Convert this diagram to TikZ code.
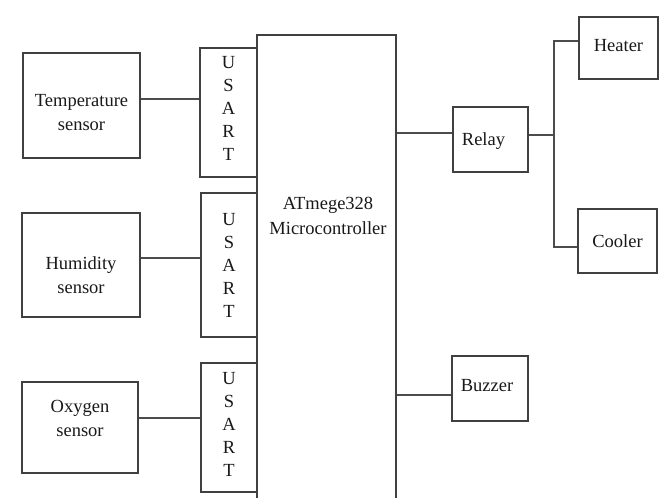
\documentclass[tikz,border=0pt]{standalone}
\usepackage{fontspec}
\setmainfont{Liberation Serif}
\begin{document}
\begin{tikzpicture}[x=1pt,y=-1pt,
  box/.style={draw=black!75, line width=2pt, rectangle, inner sep=0pt},
  txt/.style={align=center, font=\fontsize{18.5}{24.5}\selectfont, text=black!90, inner sep=0pt},
  utxt/.style={txt, font=\fontsize{18.5}{23}\selectfont},
  wire/.style={draw=black!70, line width=1.4pt}]
\useasboundingbox[fill=white] (0,0) rectangle (665,498);
% sensors
\node[box, minimum width=117pt, minimum height=105pt,
  label={[txt, yshift=-7pt]center:Temperature\\sensor}] (temp) at (81.5,105.5) {};
\node[box, minimum width=118pt, minimum height=104pt,
  label={[txt, yshift=-10pt]center:Humidity\\sensor}] (hum) at (81,265) {};
\node[box, minimum width=116pt, minimum height=91pt,
  label={[txt, yshift=9pt]center:Oxygen\\sensor}] (oxy) at (80,427.5) {};
% USART blocks
\node[box, minimum width=57pt, minimum height=129pt,
  label={[utxt, yshift=4pt]center:U\\S\\A\\R\\T}] (u1) at (228.5,112.5) {};
\node[box, minimum width=56pt, minimum height=144pt,
  label={[utxt, yshift=0pt]center:U\\S\\A\\R\\T}] (u2) at (229,265) {};
\node[box, minimum width=56pt, minimum height=129pt,
  label={[utxt, yshift=3pt]center:U\\S\\A\\R\\T}] (u3) at (229,427.5) {};
% microcontroller
\node[box, line width=2.4pt, minimum width=139pt, minimum height=490pt] (mc) at (326.5,280) {};
\node[txt] (mct) at (328,216) {ATmege328\\Microcontroller};
% outputs
\node[box, minimum width=75pt, minimum height=65pt,
  label={[txt, xshift=-7pt, yshift=-2pt]center:Relay}] (relay) at (490.5,139.5) {};
\node[box, minimum width=76pt, minimum height=65pt,
  label={[txt, xshift=-3pt, yshift=3pt]center:Buzzer}] (buzz) at (490,388.5) {};
\node[box, minimum width=79pt, minimum height=62pt,
  label={[txt, yshift=2pt]center:Heater}] (heat) at (618.5,48) {};
\node[box, minimum width=79pt, minimum height=64pt,
  label={[txt]center:Cooler}] (cool) at (617.5,241) {};
% connectors
\draw[wire] ([yshift=6.5pt]temp.east) -- ([yshift=6.5pt]temp.east -| u1.west);
\draw[wire] ([yshift=7pt]hum.east) -- ([yshift=7pt]hum.east -| u2.west);
\draw[wire] ([yshift=9.5pt]oxy.east) -- ([yshift=9.5pt]oxy.east -| u3.west);
\draw[wire] ([yshift=6.5pt]relay.west -| mc.east) -- ([yshift=6.5pt]relay.west);
\draw[wire] ([yshift=-6.5pt]buzz.west -| mc.east) -- ([yshift=-6.5pt]buzz.west);
\coordinate (j) at ([xshift=25pt,yshift=4.5pt]relay.east);
\draw[wire] ([yshift=4.5pt]relay.east) -- (j);
\draw[wire] ([yshift=7pt]heat.west) -| (j);
\draw[wire] ([yshift=-6pt]cool.west) -| (j);
\end{tikzpicture}
\end{document}
